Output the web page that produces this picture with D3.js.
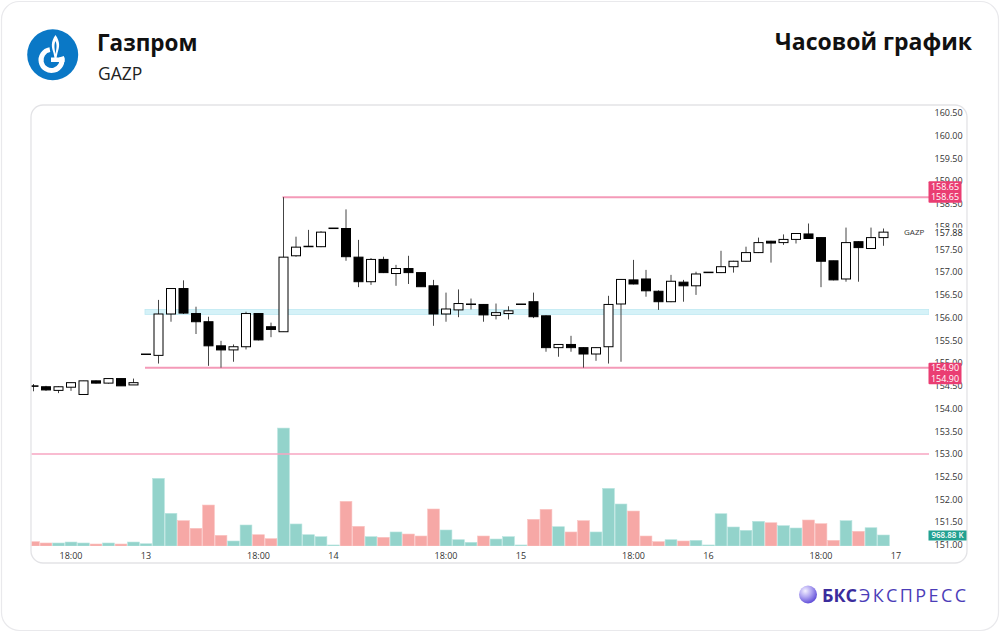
<!DOCTYPE html>
<html><head><meta charset="utf-8">
<script src="https://cdn.jsdelivr.net/npm/d3@7"></script>
<style>
body{margin:0;background:#fff;}
svg{display:block;font-family:"Open Sans","Noto Sans",sans-serif;}
</style></head><body>
<svg id="c" width="1000" height="632"></svg>
<script>
// ---------- DATA ----------
const times = [
 "12 15:00","12 16:00","12 17:00","12 18:00","12 19:00","12 20:00","12 21:00","12 22:00","12 23:00",
 "13 09:00","13 10:00","13 11:00","13 12:00","13 13:00","13 14:00","13 15:00","13 16:00","13 17:00","13 18:00","13 19:00","13 20:00","13 21:00","13 22:00","13 23:00",
 "14 09:00","14 10:00","14 11:00","14 12:00","14 13:00","14 14:00","14 15:00","14 16:00","14 17:00","14 18:00","14 19:00","14 20:00","14 21:00","14 22:00","14 23:00",
 "15 09:00","15 10:00","15 11:00","15 12:00","15 13:00","15 14:00","15 15:00","15 16:00","15 17:00","15 18:00","15 19:00","15 20:00","15 21:00","15 22:00","15 23:00",
 "16 09:00","16 10:00","16 11:00","16 12:00","16 13:00","16 14:00","16 15:00","16 16:00","16 17:00","16 18:00","16 19:00","16 20:00","16 21:00","16 22:00","16 23:00",
 "17 09:00"
];
const open  = [154.50,154.48,154.40,154.47,154.31,154.61,154.56,154.66,154.52,
 155.19,155.17,156.08,156.64,156.09,155.91,155.38,155.29,155.36,156.09,155.80,155.69,157.36,157.56,157.56,
 157.96,157.96,157.33,156.79,157.28,156.97,157.08,156.99,156.70,156.08,156.17,156.29,156.29,156.05,156.09,
 156.29,156.35,156.04,155.34,155.41,155.34,155.20,155.36,156.30,156.83,156.85,156.58,156.35,156.78,156.70,
 156.99,156.99,157.12,157.24,157.43,157.68,157.65,157.72,157.84,157.76,157.25,156.85,157.67,157.52,157.76];
const high  = [154.54,154.50,154.49,154.57,154.61,154.62,154.66,154.66,154.66,
 155.20,156.39,156.64,156.82,156.24,156.02,155.49,155.41,156.13,156.10,155.89,158.65,157.78,157.93,157.90,
 157.97,158.38,157.71,157.31,157.34,157.16,157.36,156.99,156.83,156.55,156.62,156.42,156.30,156.31,156.25,
 156.30,156.55,156.05,155.42,155.60,155.35,155.35,156.48,156.85,157.27,157.05,156.60,156.94,156.83,157.01,
 157.00,157.47,157.25,157.56,157.76,157.69,157.83,157.86,158.07,157.77,157.25,157.98,157.68,157.98,157.96];
const low   = [154.38,154.39,154.34,154.39,154.31,154.55,154.55,154.50,154.52,
 155.19,154.99,155.91,156.08,155.64,154.94,154.90,155.03,155.30,155.50,155.57,155.69,157.34,157.56,157.55,
 157.96,157.25,156.67,156.72,156.98,156.70,156.74,156.68,155.82,155.91,156.01,156.18,155.91,155.96,155.96,
 156.29,155.99,155.25,155.14,155.25,154.90,155.05,154.99,155.03,156.73,156.46,156.17,156.34,156.35,156.50,
 156.99,156.98,156.99,157.23,157.42,157.21,157.60,157.63,157.73,156.67,156.82,156.79,156.79,157.51,157.58];
const close = [154.49,154.41,154.48,154.57,154.61,154.56,154.66,154.50,154.57,
 155.20,156.08,156.64,156.10,155.91,155.38,155.29,155.36,156.09,155.51,155.74,157.33,157.55,157.57,157.88,
 157.97,157.34,156.79,157.28,156.99,157.08,156.99,156.68,156.08,156.19,156.31,156.30,156.06,156.11,156.15,
 156.30,156.02,155.34,155.41,155.34,155.20,155.34,156.29,156.84,156.74,156.59,156.35,156.80,156.70,156.96,
 157.00,157.12,157.24,157.43,157.65,157.64,157.72,157.85,157.74,157.24,156.83,157.65,157.54,157.76,157.88];
// volume, thousands of shares
const volume = [380,265,265,350,265,175,265,175,350,
 200,5960,2880,2230,1560,3610,940,440,1850,995,645,10390,1940,995,820,
 90,3935,1735,820,765,1235,1055,880,3260,1410,555,325,880,615,820,
 90,2350,3230,1700,1235,2230,1235,5080,3700,3080,880,380,555,440,500,
 90,2845,1675,1380,2175,2050,1790,1585,2290,1965,500,2230,1295,1610,968.88];

const priceTicks = [160.5,160,159.5,159,158.5,158,157.5,157,156.5,156,155.5,155,154.5,154,153.5,153,152.5,152,151.5,151];
const xTickTimes  = ["12 18:00","13 09:00","13 18:00","14 09:00","14 18:00","15 09:00","15 18:00","16 09:00","16 18:00","17 09:00"];
const xTickLabels = ["18:00","13","18:00","14","18:00","15","18:00","16","18:00","17"];
const levelPrices = [158.65, 154.90];
const levelStarts = ["13 20:00", "13 09:00"];
const bandRange = [156.07, 156.18];
const bandStart = "13 09:00";
const alertLevel = 153.00;
const lastPrice = 157.88;
const lastVolumeLabel = "968.88 K";

// ---------- LAYOUT ----------
const svg = d3.select("#c");
const defs = svg.append("defs");

// outer card
svg.append("rect").attr("x",1.5).attr("y",1.5).attr("width",997).attr("height",629)
  .attr("rx",18).attr("fill","#fff").attr("stroke","#e9e9ec").attr("stroke-width",1.2);

// header logo
const logo = svg.append("g");
logo.append("circle").attr("cx",52.7).attr("cy",54.7).attr("r",25.5).attr("fill","#0a78c6");
const gArc = d3.arc().innerRadius(8).outerRadius(13).startAngle(0.4*Math.PI).endAngle(1.95*Math.PI);
logo.append("path").attr("d",gArc()).attr("transform","translate(51.5,60)").attr("fill","#fff");
logo.append("rect").attr("x",51).attr("y",57.5).attr("width",13.5).attr("height",4.5).attr("fill","#fff");
logo.append("path").attr("d","M55.5,35 C50.5,42 51.5,47 53.5,53 L54.5,58 L56.5,58 L57.5,53 C59.5,47 60.5,42 55.5,35 Z").attr("fill","#fff");
logo.append("path").attr("d","M55.5,41 C53.8,45 54.5,48.5 55.5,54 C56.5,48.5 57.2,45 55.5,41 Z").attr("fill","#0a78c6");

svg.append("text").attr("x",97).attr("y",51).attr("font-size",22.5).attr("font-weight",700)
  .attr("fill","#111").text("Газпром");
svg.append("text").attr("x",98).attr("y",80).attr("font-size",17.5)
  .attr("fill","#222").text("GAZP");
svg.append("text").attr("x",972).attr("y",50).attr("text-anchor","end").attr("font-size",23).attr("font-weight",700)
  .attr("fill","#111").text("Часовой график");

// chart panel
svg.append("rect").attr("x",31).attr("y",105).attr("width",936).attr("height",458)
  .attr("rx",12).attr("fill","#fff").attr("stroke","#e3e3e6").attr("stroke-width",1.3);

// scales
const x = d3.scalePoint().domain(times).range([33.5, 896]);
const y = d3.scaleLinear().domain([151, 160.5]).range([545, 113]);
const yv = d3.scaleLinear().domain([0, 10000]).range([546, 432.5]);

defs.append("clipPath").attr("id","plot").append("rect")
  .attr("x",31.7).attr("y",106).attr("width",897.3).attr("height",440);
const plot = svg.append("g").attr("clip-path","url(#plot)");

const idx = d3.range(open.length);
const up = i => close[i] >= open[i];

// volume bars
plot.append("g").selectAll("rect").data(idx).join("rect")
  .attr("x", i => x(times[i]) - 5.9).attr("width", 11.8)
  .attr("y", i => yv(volume[i])).attr("height", i => Math.max(0.8, yv(0) - yv(volume[i])))
  .attr("fill", i => up(i) ? "#93d3cb" : "#f6a8a6")
  .attr("stroke", i => up(i) ? "#b9e4df" : "#fac4c2").attr("stroke-width",0.6);

// alert line 153.00
plot.append("line").attr("x1",31).attr("x2",929).attr("y1",y(alertLevel)).attr("y2",y(alertLevel))
  .attr("stroke","#f7a6c2").attr("stroke-width",1.5);

// cyan band
plot.append("rect").attr("x",x(bandStart)-1).attr("width",929-(x(bandStart)-1))
  .attr("y",y(bandRange[1])).attr("height",y(bandRange[0])-y(bandRange[1]))
  .attr("fill","#d5f2f8").attr("stroke","#bfe9f2").attr("stroke-width",0.8);

// levels
levelPrices.forEach((p,k) => {
  plot.append("line").attr("x1",x(levelStarts[k])-1).attr("x2",929).attr("y1",y(p)).attr("y2",y(p))
    .attr("stroke","#f49ab8").attr("stroke-width",2);
});

// candles
const cg = plot.append("g");
cg.selectAll("line").data(idx).join("line")
  .attr("x1", i => x(times[i])).attr("x2", i => x(times[i]))
  .attr("y1", i => y(high[i])).attr("y2", i => y(low[i]))
  .attr("stroke","#444").attr("stroke-width",1);
cg.selectAll("rect").data(idx).join("rect")
  .attr("x", i => x(times[i]) - 4.5).attr("width", 9)
  .attr("y", i => y(Math.max(open[i],close[i])))
  .attr("height", i => Math.max(0.5, Math.abs(y(open[i]) - y(close[i]))))
  .attr("fill", i => up(i) ? "#fff" : "#000")
  .attr("stroke","#000").attr("stroke-width",1);

// price axis labels
const ax = svg.append("g").attr("font-size",9).attr("fill","#333");
ax.selectAll("text").data(priceTicks).join("text")
  .attr("x",934.5).attr("y", d => y(d) + 3.2).text(d => d.toFixed(2));

// last price label
svg.append("rect").attr("x",929).attr("y",y(lastPrice)-4.5).attr("width",36).attr("height",9.5).attr("fill","#fff");
svg.append("text").attr("x",934.5).attr("y",y(lastPrice)+3.4).attr("font-size",9).attr("fill","#222").text(lastPrice.toFixed(2));
svg.append("text").attr("x",904).attr("y",y(lastPrice)+3).attr("font-size",8).attr("fill","#333").text("GAZP");

// level labels (pairs)
const lab = svg.append("g");
function pairLabel(p, above) {
  const top = above ? y(p) - 16 : y(p) - 5;
  lab.append("rect").attr("x",928.5).attr("y",top).attr("width",33).attr("height",21.6)
    .attr("fill","#ea3d72").attr("rx",1);
  lab.append("text").attr("x",945).attr("y",top+8.8).attr("text-anchor","middle")
    .attr("font-size",9).attr("fill","#fff").text(p.toFixed(2));
  lab.append("text").attr("x",945).attr("y",top+19.3).attr("text-anchor","middle")
    .attr("font-size",9).attr("fill","#fff").text(p.toFixed(2));
}
pairLabel(levelPrices[0], true);
pairLabel(levelPrices[1], false);

// volume label
const lv = yv(volume[volume.length-1]);
svg.append("rect").attr("x",928.5).attr("y",lv-4.5).attr("width",38).attr("height",10).attr("fill","#22a191");
svg.append("text").attr("x",947.5).attr("y",lv+3).attr("text-anchor","middle").attr("font-size",8)
  .attr("font-weight",600).attr("fill","#fff").text(lastVolumeLabel);

// x axis labels
svg.append("g").attr("font-size",9).attr("fill","#333").selectAll("text").data(xTickTimes).join("text")
  .attr("x", d => x(d)).attr("y",559).attr("text-anchor","middle")
  .text((d,k) => xTickLabels[k]);

// BKS logo
const rg = defs.append("radialGradient").attr("id","sph").attr("cx","35%").attr("cy","30%").attr("r","75%");
rg.append("stop").attr("offset","0%").attr("stop-color","#f3f0ff");
rg.append("stop").attr("offset","45%").attr("stop-color","#b3a8f2");
rg.append("stop").attr("offset","100%").attr("stop-color","#5a47d6");
svg.append("circle").attr("cx",808).attr("cy",594.5).attr("r",9).attr("fill","url(#sph)");
svg.append("text").attr("x",822).attr("y",601.5).attr("font-size",18).attr("font-weight",700)
  .attr("fill","#3b2c9c").text("БКС");
svg.append("text").attr("x",859).attr("y",601.5).attr("font-size",18).attr("letter-spacing",2.4)
  .attr("fill","#4b3db8").text("ЭКСПРЕСС");
</script>
</body></html>
